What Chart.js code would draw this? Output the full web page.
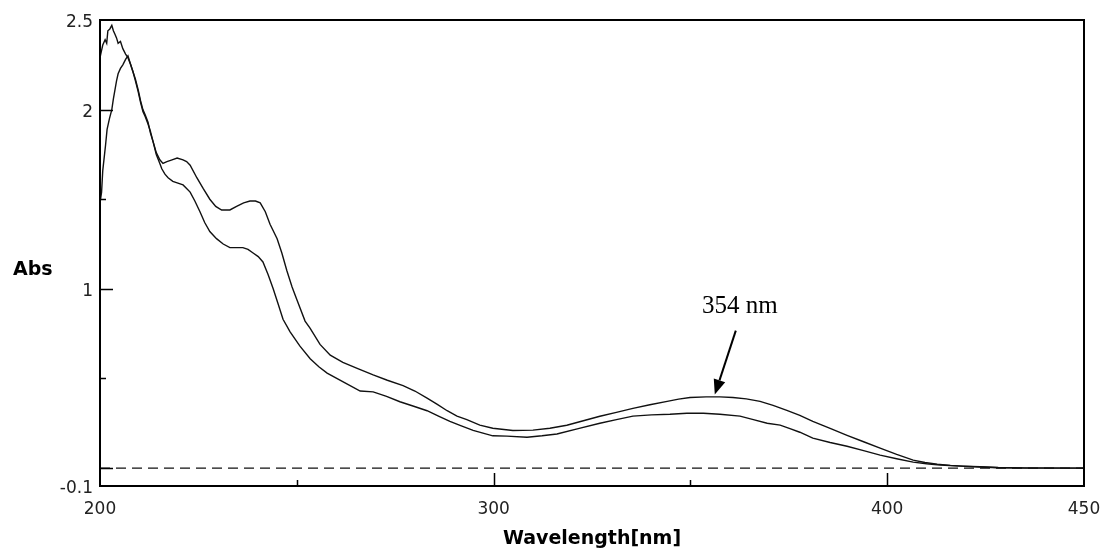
<!DOCTYPE html>
<html lang="en">
<head>
    <meta charset="UTF-8">
    <title>Absorbance Spectrum</title>
    <!-- Chart.js CDN -->
    <script src="https://cdn.jsdelivr.net/npm/chart.js"></script>
    <style>
        html, body {
            margin: 0;
            padding: 0;
            background-color: #ffffff;
        }
        .chart-container {
            position: relative;
            width: 1105px;
            height: 554px;
        }
    </style>
</head>
<body>
    <div class="chart-container">
        <canvas id="absChart" width="1105" height="554"></canvas>
    </div>

    <script>
        // Spectra (wavelength in nm, absorbance)
        const upperNm = [200.0, 200.4, 200.7, 201.3, 201.7, 202.0, 202.5, 203.0, 203.4, 203.8, 204.2, 204.6, 205.2, 205.8, 206.5, 207.1, 207.8, 208.4, 209.0, 209.7, 210.3, 210.9, 211.5, 212.2, 212.8, 213.5, 214.3, 215.2, 216.0, 217.0, 218.3, 219.6, 221.1, 222.0, 222.9, 224.6, 226.2, 227.9, 229.4, 230.9, 233.0, 234.7, 236.5, 238.1, 239.5, 240.7, 242.0, 243.2, 245.0, 246.2, 247.5, 248.8, 250.0, 252.1, 253.4, 255.9, 258.5, 261.7, 265.5, 269.4, 273.0, 277.0, 280.0, 283.1, 285.7, 288.2, 290.7, 293.2, 296.5, 299.8, 304.9, 310.0, 314.3, 318.6, 322.8, 327.0, 331.2, 335.4, 339.7, 344.1, 347.0, 349.9, 354.0, 357.5, 360.8, 364.2, 367.7, 371.0, 374.5, 377.8, 381.1, 385.5, 389.8, 394.0, 398.2, 402.4, 406.6, 409.6, 412.7, 416.0, 419.3, 423.6, 428.2, 435.0, 450.0];
        const upperAbs = [2.29, 2.33, 2.36, 2.39, 2.37, 2.44, 2.45, 2.47, 2.44, 2.42, 2.40, 2.37, 2.38, 2.34, 2.31, 2.29, 2.25, 2.21, 2.17, 2.11, 2.05, 2.00, 1.97, 1.93, 1.87, 1.82, 1.76, 1.72, 1.70, 1.71, 1.72, 1.73, 1.72, 1.71, 1.69, 1.62, 1.56, 1.50, 1.46, 1.44, 1.44, 1.46, 1.48, 1.49, 1.49, 1.48, 1.43, 1.36, 1.28, 1.20, 1.10, 1.01, 0.94, 0.82, 0.78, 0.69, 0.63, 0.59, 0.555, 0.52, 0.49, 0.46, 0.43, 0.39, 0.355, 0.32, 0.29, 0.27, 0.24, 0.222, 0.21, 0.212, 0.222, 0.239, 0.264, 0.289, 0.311, 0.333, 0.353, 0.372, 0.385, 0.394, 0.397, 0.397, 0.394, 0.386, 0.372, 0.35, 0.322, 0.294, 0.261, 0.222, 0.183, 0.147, 0.111, 0.076, 0.044, 0.031, 0.022, 0.015, 0.011, 0.007, 0.003, 0.001, 0.0];

        const lowerNm = [200.0, 200.4, 200.7, 201.0, 201.4, 201.8, 202.4, 203.0, 203.4, 203.8, 204.2, 204.6, 205.2, 205.8, 206.5, 207.1, 207.8, 208.4, 209.0, 209.7, 210.3, 210.9, 211.5, 212.2, 212.8, 213.5, 214.3, 215.2, 215.7, 216.5, 217.3, 218.5, 219.8, 221.1, 222.0, 222.9, 224.1, 225.4, 226.6, 227.9, 229.6, 231.3, 233.0, 234.6, 236.3, 237.6, 238.9, 240.2, 241.4, 242.7, 244.0, 245.2, 246.5, 248.3, 250.8, 253.4, 255.6, 257.7, 261.9, 266.1, 269.4, 272.8, 276.2, 279.7, 283.1, 286.0, 288.9, 291.8, 294.8, 297.3, 299.8, 303.4, 308.5, 312.3, 316.1, 321.5, 327.0, 331.2, 335.4, 340.1, 344.8, 349.1, 353.3, 357.5, 362.6, 366.0, 369.5, 372.8, 375.3, 377.8, 381.1, 385.5, 389.8, 394.0, 398.2, 402.4, 406.6, 410.0, 413.4, 418.5, 423.6, 428.2, 435.0, 450.0];
        const lowerAbs = [1.48, 1.54, 1.66, 1.72, 1.80, 1.89, 1.95, 2.00, 2.06, 2.11, 2.16, 2.20, 2.23, 2.25, 2.28, 2.30, 2.25, 2.21, 2.16, 2.10, 2.04, 1.99, 1.96, 1.92, 1.88, 1.82, 1.75, 1.70, 1.67, 1.64, 1.62, 1.60, 1.59, 1.58, 1.56, 1.54, 1.49, 1.43, 1.37, 1.32, 1.28, 1.25, 1.23, 1.23, 1.23, 1.22, 1.20, 1.18, 1.15, 1.08, 1.00, 0.92, 0.83, 0.76, 0.68, 0.61, 0.565, 0.53, 0.48, 0.43, 0.425, 0.40, 0.37, 0.345, 0.32, 0.29, 0.26, 0.235, 0.21, 0.195, 0.18, 0.178, 0.172, 0.18, 0.19, 0.22, 0.25, 0.27, 0.29, 0.297, 0.30, 0.306, 0.306, 0.30, 0.29, 0.27, 0.25, 0.24, 0.22, 0.20, 0.167, 0.143, 0.122, 0.097, 0.072, 0.052, 0.033, 0.024, 0.017, 0.011, 0.006, 0.002, 0.0, 0.0];

        const baselineNm = [200, 450];
        const baselineAbs = [0, 0];

        // axis ticks
        const xTickValues = [200, 250, 300, 350, 400, 450];
        const xTickLabels = ['200', '', '300', '', '400', '450'];
        const yTickValues = [-0.1, 0, 0.5, 1, 1.5, 2, 2.5];
        const yTickLabels = ['-0.1', '', '', '1', '', '2', '2.5'];

        // peak annotation
        const peakLabel = '354 nm';
        const peakArrowTip = [356.2, 0.41];

        const toPoints = (xs, ys) => xs.map((v, i) => ({ x: v, y: ys[i] }));

        // frame, inward tick marks, axis titles and the peak arrow
        const decorations = {
            id: 'decorations',
            afterDraw(chart) {
                const { ctx, chartArea: a, scales: { x, y } } = chart;
                ctx.save();
                ctx.strokeStyle = '#000';
                ctx.lineWidth = 2;
                ctx.strokeRect(a.left, a.top, a.right - a.left, a.bottom - a.top);

                ctx.lineWidth = 1.5;
                ctx.beginPath();
                yTickValues.forEach(v => {
                    if (v <= y.min || v >= y.max) return;
                    const len = Number.isInteger(v) ? 13 : 6;
                    const py = Math.round(y.getPixelForValue(v)) + 0.5;
                    ctx.moveTo(a.left, py);
                    ctx.lineTo(a.left + len, py);
                });
                xTickValues.forEach(v => {
                    if (v <= x.min || v >= x.max) return;
                    const len = v % 100 === 0 ? 13 : 6;
                    const px = Math.round(x.getPixelForValue(v)) + 0.5;
                    ctx.moveTo(px, a.bottom);
                    ctx.lineTo(px, a.bottom - len);
                });
                ctx.stroke();

                // axis titles
                ctx.fillStyle = '#000';
                ctx.font = 'bold 19px "DejaVu Sans"';
                ctx.textBaseline = 'alphabetic';
                ctx.textAlign = 'left';
                ctx.fillText('Abs', 13, 275);
                ctx.textAlign = 'center';
                ctx.fillText('Wavelength[nm]', (a.left + a.right) / 2, 544);

                // peak arrow + label
                const tx = x.getPixelForValue(peakArrowTip[0]);
                const ty = y.getPixelForValue(peakArrowTip[1]);
                const sx = tx + 21, sy = ty - 64;
                const dx = tx - sx, dy = ty - sy;
                const len = Math.hypot(dx, dy);
                const ux = dx / len, uy = dy / len;
                const head = 15, half = 6;
                const bx = tx - ux * head, by = ty - uy * head;
                ctx.lineWidth = 2;
                ctx.beginPath();
                ctx.moveTo(sx, sy);
                ctx.lineTo(bx, by);
                ctx.stroke();
                ctx.beginPath();
                ctx.moveTo(tx, ty);
                ctx.lineTo(bx - uy * half, by + ux * half);
                ctx.lineTo(bx + uy * half, by - ux * half);
                ctx.closePath();
                ctx.fill();

                ctx.font = '25px "Liberation Serif"';
                ctx.textAlign = 'center';
                ctx.fillText(peakLabel, tx + 25, ty - 82);
                ctx.restore();
            }
        };

        new Chart(document.getElementById('absChart'), {
            type: 'scatter',
            data: {
                datasets: [
                    {
                        label: 'Spectrum 1',
                        data: toPoints(upperNm, upperAbs),
                        showLine: true,
                        borderColor: '#111',
                        borderWidth: 1.4,
                        pointRadius: 0,
                        tension: 0
                    },
                    {
                        label: 'Spectrum 2',
                        data: toPoints(lowerNm, lowerAbs),
                        showLine: true,
                        borderColor: '#111',
                        borderWidth: 1.4,
                        pointRadius: 0,
                        tension: 0
                    },
                    {
                        label: 'Baseline',
                        data: toPoints(baselineNm, baselineAbs),
                        showLine: true,
                        borderColor: '#111',
                        borderWidth: 1.4,
                        borderDash: [10, 6],
                        pointRadius: 0
                    }
                ]
            },
            options: {
                responsive: false,
                animation: false,
                layout: {
                    padding: { left: 0, right: 21, top: 20, bottom: 0 }
                },
                plugins: {
                    legend: { display: false },
                    tooltip: { enabled: false }
                },
                scales: {
                    x: {
                        type: 'linear',
                        min: 200,
                        max: 450,
                        grid: { display: false, drawTicks: false },
                        border: { display: false },
                        afterBuildTicks: scale => {
                            scale.ticks = xTickValues.map(v => ({ value: v }));
                        },
                        afterFit: scale => {
                            scale.height = 68;
                            scale.paddingLeft = 0;
                            scale.paddingRight = 0;
                        },
                        ticks: {
                            autoSkip: false,
                            maxRotation: 0,
                            padding: 13,
                            color: '#222',
                            font: { family: 'DejaVu Sans', size: 17 },
                            callback: (value, i) => xTickLabels[i]
                        }
                    },
                    y: {
                        type: 'linear',
                        min: -0.1,
                        max: 2.5,
                        grid: { display: false, drawTicks: false },
                        border: { display: false },
                        afterBuildTicks: scale => {
                            scale.ticks = yTickValues.map(v => ({ value: v }));
                        },
                        afterFit: scale => {
                            scale.width = 100;
                            scale.paddingTop = 0;
                            scale.paddingBottom = 0;
                        },
                        ticks: {
                            autoSkip: false,
                            padding: 7,
                            labelOffset: 3,
                            color: '#222',
                            font: { family: 'DejaVu Sans', size: 17 },
                            callback: (value, i) => yTickLabels[i]
                        }
                    }
                }
            },
            plugins: [decorations]
        });
    </script>
</body>
</html>
